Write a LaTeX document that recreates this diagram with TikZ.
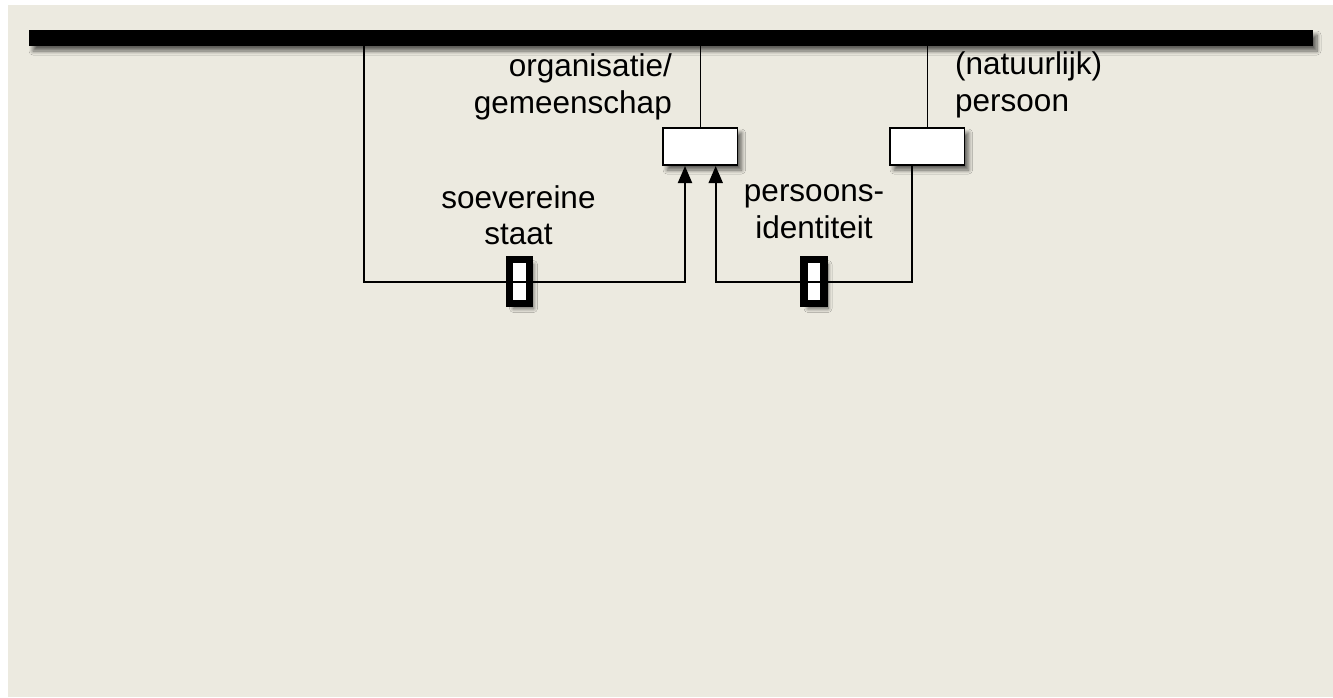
\documentclass[tikz,border=0pt]{standalone}
\usepackage{fontspec}
\setmainfont{Liberation Sans}
\usetikzlibrary{arrows.meta,shadows.blur}
\definecolor{paper}{RGB}{236,234,224}
\begin{document}
\begin{tikzpicture}[x=1pt,y=-1pt,
  conn/.style={draw=black,line width=1.6pt},
  arr/.style={conn,line width=2pt,-{Triangle[length=17pt,width=14pt]}},
  shad/.style={blur shadow={shadow xshift=4pt,shadow yshift=-5pt,shadow blur radius=4pt,shadow blur steps=8,shadow opacity=60}},
  entbox/.style={draw=black,line width=1.6pt,fill=white,minimum width=74.5pt,minimum height=37pt,inner sep=0pt,shad},
  marker/.style={draw=black,line width=7.5pt,fill=white,minimum width=20pt,minimum height=44pt,inner sep=0pt,shad},
  lbl/.style={inner sep=0pt,font=\fontsize{31.5}{36.5}\selectfont}]
\useasboundingbox (0,0) rectangle (1333,697);
\fill[white] (0,0) rectangle (1333,697);
\fill[paper] (8,5) rectangle (1333,697);
% bar
\node (bar) [fill=black,minimum width=1284pt,minimum height=16pt,inner sep=0pt,shad] at (671,38) {};
% boxes
\node (org) [entbox] at (700.3,146.5) {};
\node (per) [entbox] at (927.3,146.5) {};
% markers
\node (m1) [marker] at (519.5,281.5) {};
\node (m2) [marker] at (814,281.5) {};
% coordinates
\coordinate (sL) at (364,282);
\coordinate (a1) at (685,166);
\coordinate (a2) at (715.7,166);
\coordinate (c2) at (912.3,166);
% connectors
\draw[conn] (org.north) -- (org.north |- bar.south);
\draw[conn] (per.north) -- (per.north |- bar.south);
\draw[arr] (bar.south -| sL) |- (m1.center) -| (a1);
\draw[arr] (c2) |- (m2.center) -| (a2);
% labels (base anchor = baseline of last line)
\node[lbl,anchor=base east,align=right] (t1) at (672,113) {organisatie/\\gemeenschap};
\node[lbl,anchor=base,align=center] (t2) at (518.5,244.5) {soevereine\\staat};
\node[lbl,anchor=base,align=center] (t3) at (814,238) {persoons-\\identiteit};
\node[lbl,anchor=base west,align=left] (t4) at (955,111) {(natuurlijk)\\persoon};
\end{tikzpicture}
\end{document}
